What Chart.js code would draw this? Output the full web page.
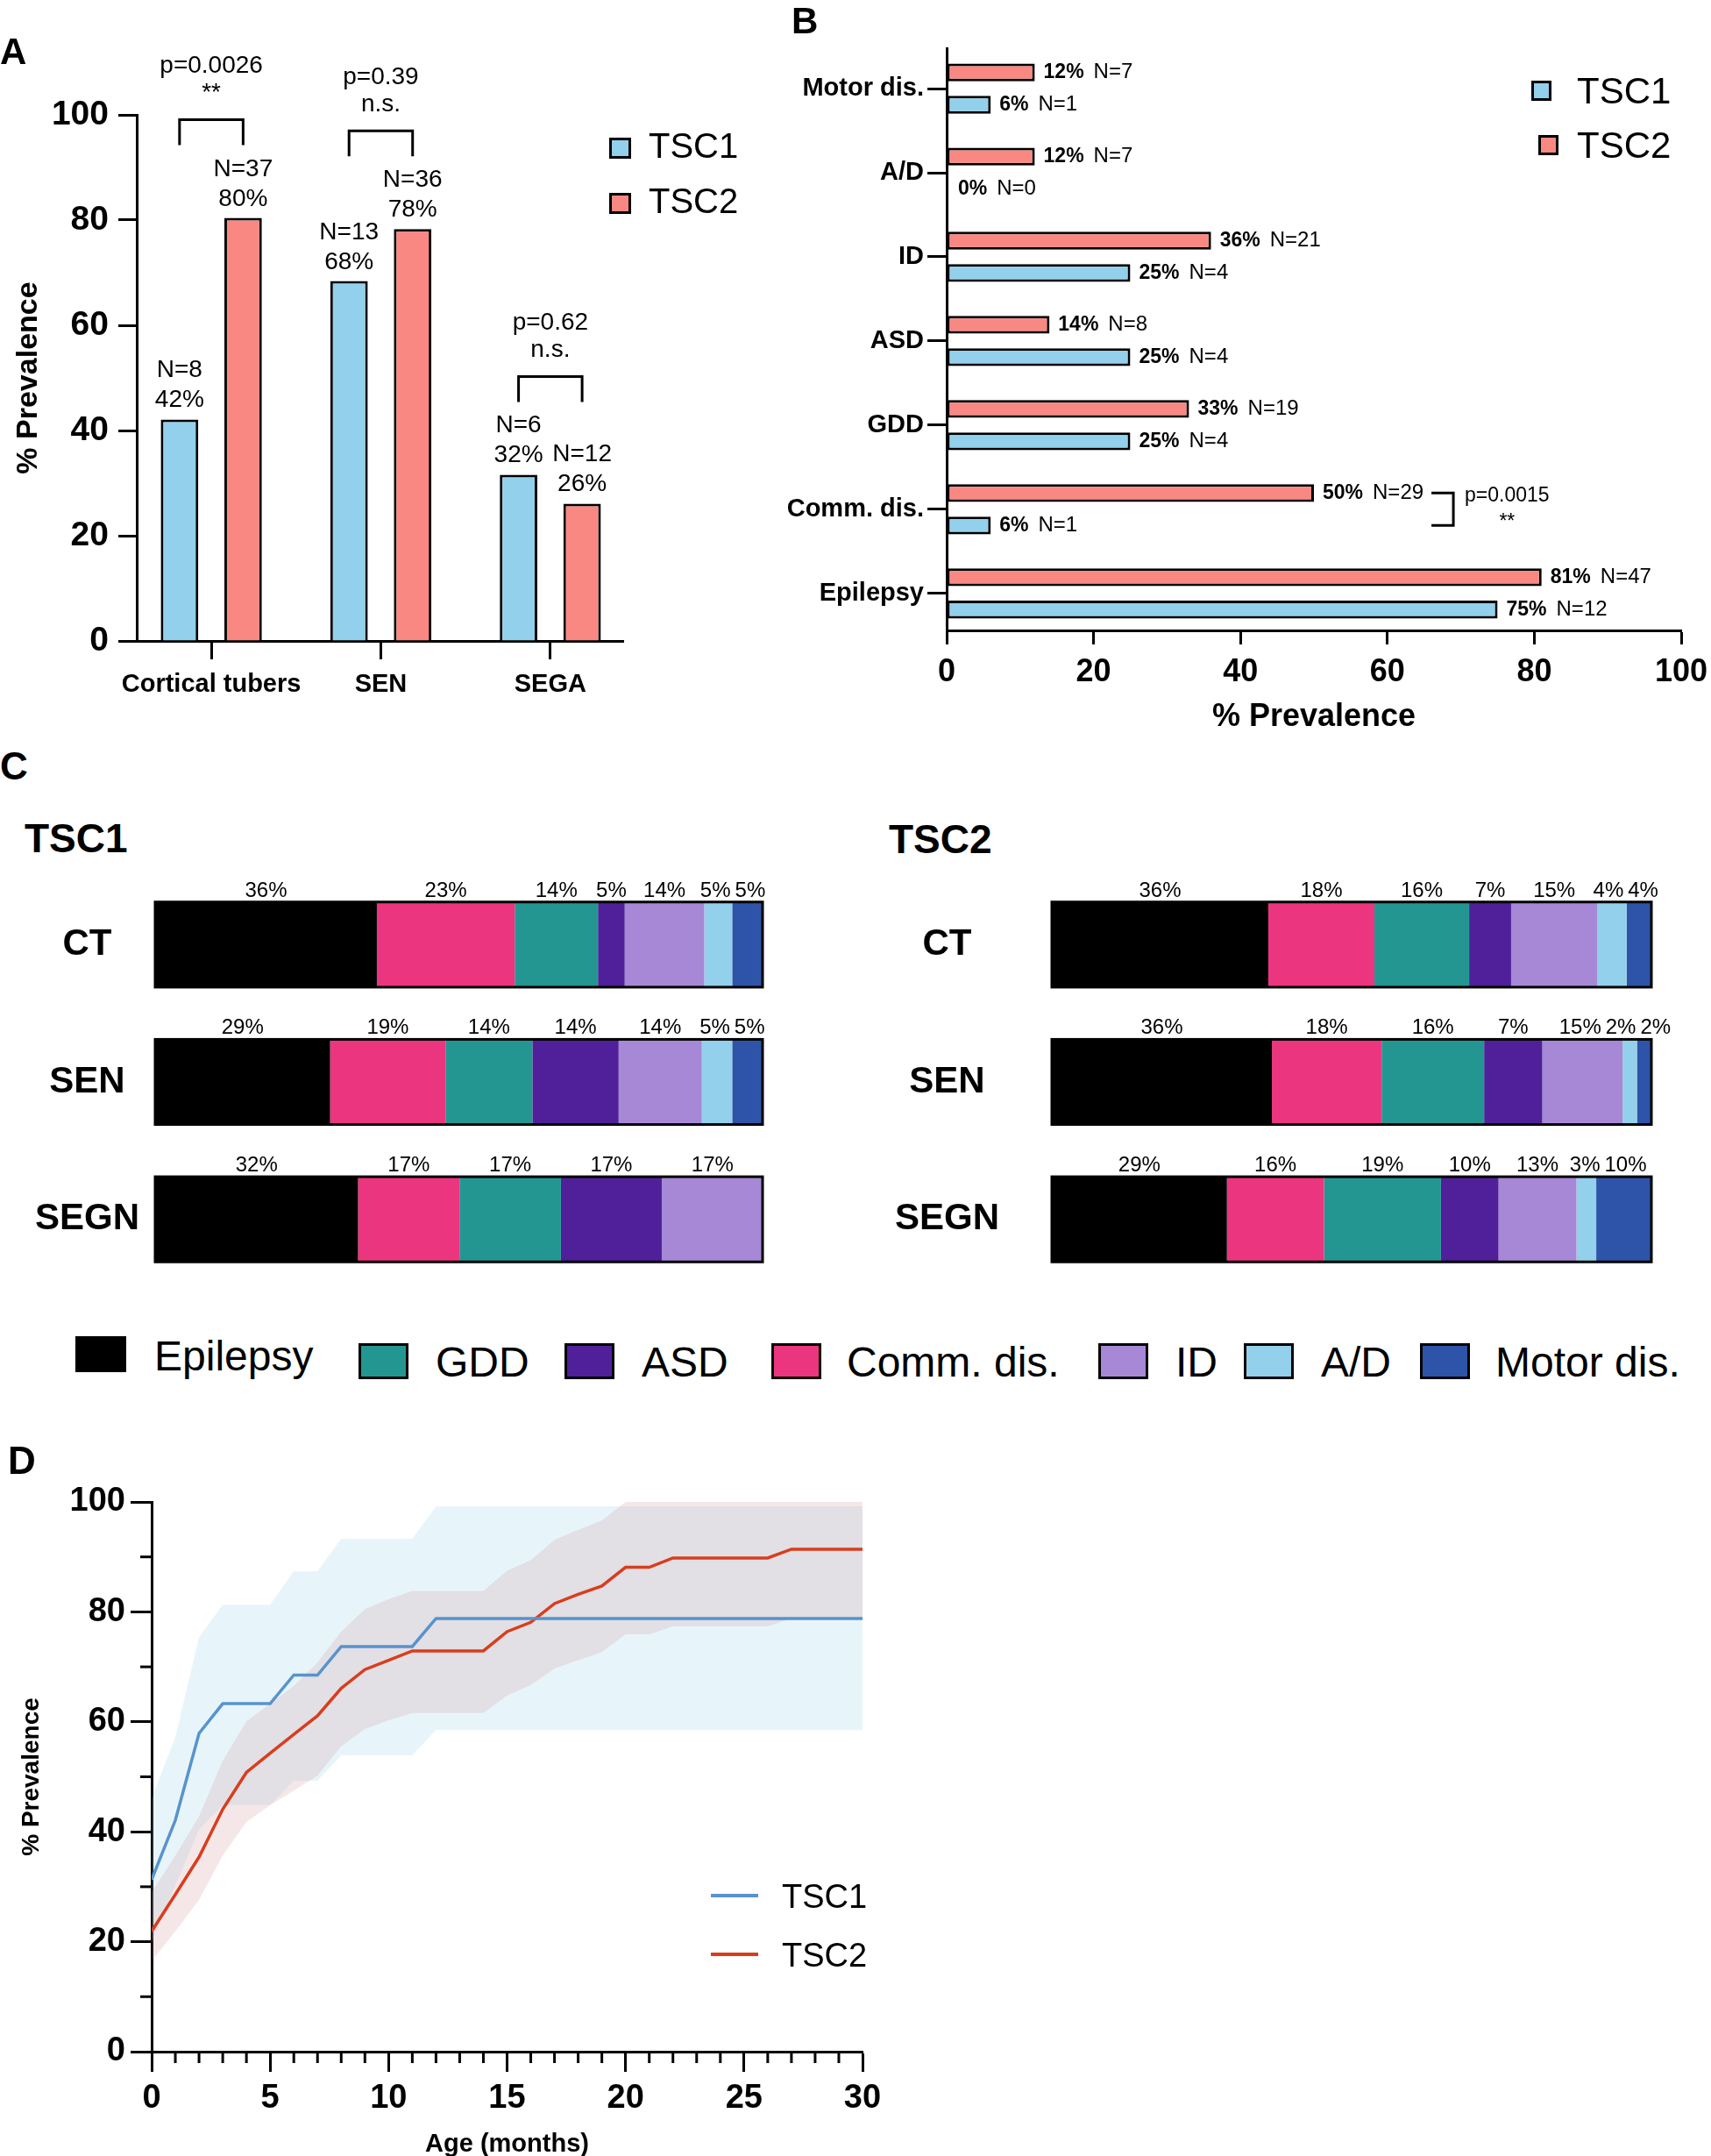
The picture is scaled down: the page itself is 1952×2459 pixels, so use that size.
<!DOCTYPE html>
<html>
<head>
<meta charset="utf-8">
<title>TSC1 / TSC2 prevalence</title>
<script src="https://cdn.jsdelivr.net/npm/chart.js@4.4.1/dist/chart.umd.min.js"></script>
<style>
  html, body { margin: 0; padding: 0; background: #fff; }
  body { position: relative; width: 1952px; height: 2459px; overflow: hidden;
         font-family: "Liberation Sans", Arial, Helvetica, sans-serif; color: #000; }
  canvas { position: absolute; }
  .txt { position: absolute; line-height: 1; white-space: nowrap; }
  .letter { font-size: 42px; font-weight: bold; }
  .box { position: absolute; box-sizing: border-box; border: 3px solid #000; }
  .line { position: absolute; height: 4px; }
</style>
</head>
<body>

<canvas id="chartA" width="880" height="810" style="left:0;top:0"></canvas>
<canvas id="chartB" width="1072" height="850" style="left:880px;top:0"></canvas>
<canvas id="chartC1" width="940" height="490" style="left:0;top:990px"></canvas>
<canvas id="chartC2" width="992" height="490" style="left:960px;top:990px"></canvas>
<canvas id="chartD" width="1100" height="860" style="left:0;top:1620px"></canvas>

<!-- panel letters and titles -->
<div class="txt letter" style="left:0;top:38px">A</div>
<div class="txt letter" style="left:903px;top:3px">B</div>
<div class="txt letter" style="left:0;top:852px;font-size:44px">C</div>
<div class="txt letter" style="left:9px;top:1644px;font-size:44px">D</div>
<div class="txt" style="left:28px;top:933px;font-size:46px;font-weight:bold">TSC1</div>
<div class="txt" style="left:1014px;top:934px;font-size:46px;font-weight:bold">TSC2</div>

<!-- legend A -->
<div class="box" style="left:695px;top:157px;width:25px;height:24px;background:#92D0EB"></div>
<div class="txt" style="left:740px;top:146px;font-size:40px">TSC1</div>
<div class="box" style="left:695px;top:220px;width:25px;height:24px;background:#F98882"></div>
<div class="txt" style="left:740px;top:209px;font-size:40px">TSC2</div>

<!-- legend B -->
<div class="box" style="left:1747px;top:92px;width:23px;height:23px;background:#92D0EB"></div>
<div class="txt" style="left:1799px;top:83px;font-size:42px">TSC1</div>
<div class="box" style="left:1755px;top:154px;width:23px;height:23px;background:#F98882"></div>
<div class="txt" style="left:1799px;top:145px;font-size:42px">TSC2</div>

<!-- legend C -->
<div class="box" style="left:86px;top:1524px;width:58px;height:41px;background:#000"></div>
<div class="txt" style="left:176px;top:1523px;font-size:48px">Epilepsy</div>
<div class="box" style="left:409px;top:1532px;width:57px;height:41px;background:#249692"></div>
<div class="txt" style="left:497px;top:1530px;font-size:48px">GDD</div>
<div class="box" style="left:644px;top:1532px;width:57px;height:41px;background:#50209A"></div>
<div class="txt" style="left:732px;top:1530px;font-size:48px">ASD</div>
<div class="box" style="left:880px;top:1532px;width:57px;height:41px;background:#EC357F"></div>
<div class="txt" style="left:966px;top:1530px;font-size:48px">Comm. dis.</div>
<div class="box" style="left:1253px;top:1532px;width:57px;height:41px;background:#A688D6"></div>
<div class="txt" style="left:1341px;top:1530px;font-size:48px">ID</div>
<div class="box" style="left:1419px;top:1532px;width:57px;height:41px;background:#93D0EC"></div>
<div class="txt" style="left:1507px;top:1530px;font-size:48px">A/D</div>
<div class="box" style="left:1620px;top:1532px;width:57px;height:41px;background:#2D54A8"></div>
<div class="txt" style="left:1706px;top:1530px;font-size:48px">Motor dis.</div>

<!-- legend D -->
<div class="line" style="left:811px;top:2160px;width:54px;background:#5893CC"></div>
<div class="txt" style="left:892px;top:2144px;font-size:38px">TSC1</div>
<div class="line" style="left:811px;top:2227px;width:54px;background:#D93D1C"></div>
<div class="txt" style="left:892px;top:2211px;font-size:38px">TSC2</div>

<script>
// ---- panel A: lesion prevalence ----
const lesionTypes = ['Cortical tubers', 'SEN', 'SEGA'];
const lesionTSC1 = [42.1, 68.4, 31.6];
const lesionTSC2 = [80.4, 78.3, 26.1];
const lesionN1 = ['N=8', 'N=13', 'N=6'];
const lesionN2 = ['N=37', 'N=36', 'N=12'];
const lesionPct1 = ['42%', '68%', '32%'];
const lesionPct2 = ['80%', '78%', '26%'];
const lesionP = ['p=0.0026', 'p=0.39', 'p=0.62'];
const lesionSig = ['**', 'n.s.', 'n.s.'];

// ---- panel B: comorbidities ----
const comorbidities = ['Motor dis.', 'A/D', 'ID', 'ASD', 'GDD', 'Comm. dis.', 'Epilepsy'];
const comorbTSC1 = [6, 0, 25, 25, 25, 6, 75];
const comorbTSC2 = [12, 12, 36, 14, 33, 50, 81];
const comorbN1 = ['N=1', 'N=0', 'N=4', 'N=4', 'N=4', 'N=1', 'N=12'];
const comorbN2 = ['N=7', 'N=7', 'N=21', 'N=8', 'N=19', 'N=29', 'N=47'];
const commP = 'p=0.0015';
const commSig = '**';

// ---- panel C: comorbidity share per lesion ----
const segmentNames = ['Epilepsy', 'Comm. dis.', 'GDD', 'ASD', 'ID', 'A/D', 'Motor dis.'];
const segmentColors = ['#000000', '#EC357F', '#249692', '#50209A', '#A688D6', '#93D0EC', '#2D54A8'];
const lesionRows = ['CT', 'SEN', 'SEGN'];
const tsc1CT = [36.5, 22.7, 13.7, 4.4, 13.1, 4.6, 5.0];
const tsc1SEN = [28.8, 19.0, 14.3, 14.2, 13.7, 5.0, 5.0];
const tsc1SEGN = [33.4, 16.7, 16.7, 16.6, 16.7, 0, 0];
const tsc2CT = [36.1, 17.7, 15.8, 7.0, 14.4, 4.9, 4.2];
const tsc2SEN = [36.7, 18.3, 17.1, 9.7, 13.4, 2.4, 2.4];
const tsc2SEGN = [29.2, 16.2, 19.5, 9.6, 13.0, 3.3, 9.3];
const tsc1CTLabels = ['36%', '23%', '14%', '5%', '14%', '5%', '5%'];
const tsc1SENLabels = ['29%', '19%', '14%', '14%', '14%', '5%', '5%'];
const tsc1SEGNLabels = ['32%', '17%', '17%', '17%', '17%', '', ''];
const tsc2CTLabels = ['36%', '18%', '16%', '7%', '15%', '4%', '4%'];
const tsc2SENLabels = ['36%', '18%', '16%', '7%', '15%', '2%', '2%'];
const tsc2SEGNLabels = ['29%', '16%', '19%', '10%', '13%', '3%', '10%'];

// ---- panel D: cumulative prevalence by age ----
const months = [0, 1, 2, 3, 4, 5, 6, 7, 8, 9, 10, 11, 12, 13, 14, 15, 16, 17, 18, 19, 20, 21, 22, 23, 24, 25, 26, 27, 28, 29, 30];
const tsc1Line = [31.3, 42.1, 57.9, 63.3, 63.3, 63.3, 68.5, 68.5, 73.7, 73.7, 73.7, 73.7, 78.8, 78.8, 78.8, 78.8, 78.8, 78.8, 78.8, 78.8, 78.8, 78.8, 78.8, 78.8, 78.8, 78.8, 78.8, 78.8, 78.8, 78.8, 78.8];
const tsc1Upper = [46.1, 57.2, 75.4, 81.3, 81.3, 81.3, 87.4, 87.4, 93.3, 93.3, 93.3, 93.3, 99.2, 99.2, 99.2, 99.2, 99.2, 99.2, 99.2, 99.2, 99.2, 99.2, 99.2, 99.2, 99.2, 99.2, 99.2, 99.2, 99.2, 99.2, 99.2];
const tsc1Lower = [19.9, 30.3, 40.4, 44.9, 44.9, 44.9, 49.3, 49.3, 53.9, 53.9, 53.9, 53.9, 58.5, 58.5, 58.5, 58.5, 58.5, 58.5, 58.5, 58.5, 58.5, 58.5, 58.5, 58.5, 58.5, 58.5, 58.5, 58.5, 58.5, 58.5, 58.5];
const tsc2Line = [21.9, 28.6, 35.4, 44.1, 50.8, 54.3, 57.7, 61.1, 66.1, 69.5, 71.2, 72.9, 72.9, 72.9, 72.9, 76.4, 78.1, 81.5, 83.2, 84.7, 88.1, 88.1, 89.8, 89.8, 89.8, 89.8, 89.8, 91.4, 91.4, 91.4, 91.4];
const tsc2Upper = [29.0, 35.7, 42.8, 52.9, 60.1, 63.3, 66.5, 70.8, 76.4, 80.5, 82.3, 83.8, 83.8, 83.8, 83.8, 87.5, 89.4, 93.1, 94.9, 96.6, 100, 100, 100, 100, 100, 100, 100, 100, 100, 100, 100];
const tsc2Lower = [16.5, 21.9, 27.6, 35.7, 41.8, 44.8, 47.5, 50.2, 55.6, 58.7, 60.3, 61.6, 61.6, 61.6, 61.6, 64.8, 66.7, 69.7, 71.2, 72.7, 75.9, 75.9, 77.4, 77.4, 77.4, 77.4, 77.4, 78.8, 78.8, 78.8, 78.8];

const FONT = '"Liberation Sans", Arial, Helvetica, sans-serif';
const TSC1_FILL = '#92D0EB';
const TSC2_FILL = '#F98882';

Chart.defaults.font.family = FONT;
Chart.defaults.color = '#000';
Chart.defaults.animation = false;
Chart.defaults.plugins.legend.display = false;
Chart.defaults.plugins.tooltip.enabled = false;

const axisLine = { display: true, width: 3, color: '#000' };

// one tick per category on a linear index axis
const indexTicks = (names) => (s) => { s.ticks = names.map((_, i) => ({ value: i })); };

// N / % labels above bars, significance brackets
const lesionLabels = {
    id: 'lesionLabels',
    afterDatasetsDraw(chart) {
        const ctx = chart.ctx;
        const m1 = chart.getDatasetMeta(0);
        const m2 = chart.getDatasetMeta(1);
        ctx.save();
        ctx.fillStyle = '#000';
        ctx.textAlign = 'center';
        ctx.font = '28px ' + FONT;
        [[m1, lesionN1, lesionPct1], [m2, lesionN2, lesionPct2]].forEach(([meta, ns, pcts]) => {
            meta.data.forEach((bar, i) => {
                ctx.textBaseline = 'alphabetic';
                ctx.fillText(pcts[i], bar.x, bar.y - 14);
                ctx.fillText(ns[i], bar.x, bar.y - 48);
            });
        });
        ctx.lineWidth = 3;
        ctx.strokeStyle = '#000';
        lesionTypes.forEach((_, i) => {
            const b1 = m1.data[i], b2 = m2.data[i];
            const top = Math.min(b1.y, b2.y) - 112;
            ctx.beginPath();
            ctx.moveTo(b1.x, top + 29);
            ctx.lineTo(b1.x, top);
            ctx.lineTo(b2.x, top);
            ctx.lineTo(b2.x, top + 29);
            ctx.stroke();
            const cx = (b1.x + b2.x) / 2;
            ctx.textBaseline = 'middle';
            ctx.fillText(lesionP[i], cx, top - 61);
            ctx.fillText(lesionSig[i], cx, top - 30);
        });
        ctx.restore();
    }
};

new Chart(document.getElementById('chartA'), {
    type: 'bar',
    data: {
        datasets: [
            { label: 'TSC1', data: lesionTSC1.map((v, i) => ({ x: i, y: v })), backgroundColor: TSC1_FILL, borderColor: '#000', borderWidth: 3 },
            { label: 'TSC2', data: lesionTSC2.map((v, i) => ({ x: i, y: v })), backgroundColor: TSC2_FILL, borderColor: '#000', borderWidth: 3 }
        ]
    },
    options: {
        responsive: false,
        categoryPercentage: 0.75,
        barPercentage: 0.59,
        layout: { padding: { top: 131, right: 169, left: 0, bottom: 0 } },
        scales: {
            x: {
                type: 'linear', min: -0.44, max: 2.43, offset: false,
                afterBuildTicks: indexTicks(lesionTypes),
                grid: { offset: false, display: true, drawOnChartArea: false, tickLength: 21, tickWidth: 3, tickColor: '#000' },
                border: axisLine,
                ticks: { autoSkip: false, maxRotation: 0, font: { size: 29, weight: 'bold' }, padding: 12,
                         callback: (v) => lesionTypes[v] },
                afterFit: (s) => { s.height = 79; s.paddingLeft = 0; s.paddingRight = 0; }
            },
            y: {
                min: 0, max: 100,
                ticks: { stepSize: 20, font: { size: 39, weight: 'bold' }, padding: 11 },
                grid: { display: true, drawOnChartArea: false, tickLength: 21, tickWidth: 3, tickColor: '#000' },
                border: axisLine,
                title: { display: true, text: '% Prevalence', font: { size: 34, weight: 'bold' }, padding: { top: 12, bottom: 0 } },
                afterFit: (s) => { s.width = 156; }
            }
        }
    },
    plugins: [lesionLabels]
});

// value labels next to horizontal bars, bracket for comm. dis.
const comorbLabels = {
    id: 'comorbLabels',
    afterDatasetsDraw(chart) {
        const ctx = chart.ctx;
        const xs = chart.scales.x;
        const commIdx = comorbidities.indexOf('Comm. dis.');
        let commEnd = 0;
        const m2 = chart.getDatasetMeta(0);
        const m1 = chart.getDatasetMeta(1);
        ctx.save();
        ctx.fillStyle = '#000';
        ctx.textBaseline = 'middle';
        ctx.textAlign = 'left';
        [[m2, comorbTSC2, comorbN2], [m1, comorbTSC1, comorbN1]].forEach(([meta, vals, ns], d) => {
            meta.data.forEach((bar, i) => {
                let x = xs.getPixelForValue(vals[i]) + (vals[i] === 0 ? 13 : 10);
                const pct = vals[i] + '%';
                ctx.font = 'bold 23px ' + FONT;
                ctx.fillText(pct, x, bar.y);
                x += ctx.measureText(pct).width + 11;
                ctx.font = '24px ' + FONT;
                ctx.fillText(ns[i], x, bar.y);
                if (d === 0 && i === commIdx) commEnd = x + ctx.measureText(ns[i]).width;
            });
        });
        const yA = m2.data[commIdx].y, yB = m1.data[commIdx].y;
        const armStart = commEnd + 9, vx = armStart + 25;
        ctx.lineWidth = 3;
        ctx.strokeStyle = '#000';
        ctx.beginPath();
        ctx.moveTo(armStart, yA);
        ctx.lineTo(vx, yA);
        ctx.lineTo(vx, yB);
        ctx.lineTo(armStart, yB);
        ctx.stroke();
        ctx.font = '23px ' + FONT;
        ctx.fillText(commP, vx + 13, yA + 3);
        const pw = ctx.measureText(commP).width;
        ctx.textAlign = 'center';
        ctx.fillText(commSig, vx + 13 + pw / 2, yB - 4);
        ctx.restore();
    }
};

const barBorder = (c) => (c.raw && c.raw.x === 0 ? 0 : 3);

new Chart(document.getElementById('chartB'), {
    type: 'bar',
    data: {
        datasets: [
            { label: 'TSC2', data: comorbTSC2.map((v, i) => ({ x: v, y: i })), backgroundColor: TSC2_FILL, borderColor: '#000',
              borderWidth: barBorder, borderSkipped: false },
            { label: 'TSC1', data: comorbTSC1.map((v, i) => ({ x: v, y: i })), backgroundColor: TSC1_FILL, borderColor: '#000',
              borderWidth: barBorder, borderSkipped: false }
        ]
    },
    options: {
        responsive: false,
        indexAxis: 'y',
        categoryPercentage: 0.77,
        barPercentage: 0.55,
        layout: { padding: { top: 55, right: 34, left: 0, bottom: 0 } },
        scales: {
            x: {
                min: 0, max: 100,
                ticks: { stepSize: 20, font: { size: 36, weight: 'bold' }, padding: 10 },
                grid: { display: true, drawOnChartArea: false, tickLength: 16, tickWidth: 3, tickColor: '#000' },
                border: axisLine,
                title: { display: true, text: '% Prevalence', font: { size: 36, weight: 'bold' }, padding: { top: 0, bottom: 10 } },
                afterFit: (s) => { s.height = 131; s.paddingLeft = 0; s.paddingRight = 0; }
            },
            y: {
                type: 'linear', reverse: true, min: -0.48, max: 6.44, offset: false,
                afterBuildTicks: indexTicks(comorbidities),
                grid: { offset: false, display: true, drawOnChartArea: false, tickLength: 22, tickWidth: 3, tickColor: '#000' },
                border: axisLine,
                ticks: { font: { size: 29, weight: 'bold' }, padding: 4, autoSkip: false,
                         callback: (v) => comorbidities[v] },
                afterFit: (s) => { s.width = 200; s.paddingTop = 0; s.paddingBottom = 0; }
            }
        }
    },
    plugins: [comorbLabels]
});

// percent labels above stacked segments + outline of each bar
function segmentLabels(labelRows) {
    return {
        id: 'segmentLabels',
        afterDatasetsDraw(chart) {
            const ctx = chart.ctx;
            const xs = chart.scales.x;
            ctx.save();
            ctx.font = '24px ' + FONT;
            ctx.fillStyle = '#000';
            ctx.textAlign = 'center';
            ctx.textBaseline = 'alphabetic';
            labelRows.forEach((labels, row) => {
                const items = [];
                let top = Infinity, bottom = -Infinity;
                chart.data.datasets.forEach((ds, d) => {
                    const bar = chart.getDatasetMeta(d).data[row];
                    top = Math.min(top, bar.y - bar.height / 2);
                    bottom = Math.max(bottom, bar.y + bar.height / 2);
                    if (!ds.data[row]) return;
                    items.push({ text: labels[d], x: (bar.x + bar.base) / 2, w: ctx.measureText(labels[d]).width });
                });
                for (let it = 0; it < 30; it++) {
                    for (let k = 1; k < items.length; k++) {
                        const a = items[k - 1], b = items[k];
                        const overlap = (a.x + a.w / 2 + 5) - (b.x - b.w / 2);
                        if (overlap > 0) { a.x -= overlap / 2; b.x += overlap / 2; }
                    }
                }
                items.forEach((it) => ctx.fillText(it.text, it.x, top - 6));
                ctx.lineWidth = 3;
                ctx.strokeStyle = '#000';
                const x0 = xs.getPixelForValue(0), x1 = xs.getPixelForValue(100);
                ctx.strokeRect(x0, top, x1 - x0, bottom - top);
            });
            ctx.restore();
        }
    };
}

function stackedChart(id, rows, labelRows, axisWidth, labelPad, rightPad) {
    return new Chart(document.getElementById(id), {
        type: 'bar',
        data: {
            labels: lesionRows,
            datasets: segmentNames.map((name, d) => ({
                label: name,
                data: rows.map((r) => r[d]),
                backgroundColor: segmentColors[d],
                borderWidth: 0
            }))
        },
        options: {
            responsive: false,
            indexAxis: 'y',
            categoryPercentage: 1,
            barPercentage: 0.62,
            layout: { padding: { top: 9, bottom: 11, left: 0, right: rightPad } },
            scales: {
                x: { stacked: true, min: 0, max: 100, display: false },
                y: {
                    stacked: true,
                    grid: { display: false, drawTicks: false },
                    border: { display: false },
                    ticks: { font: { size: 42, weight: 'bold' }, crossAlign: 'center', padding: labelPad },
                    afterFit: (s) => { s.width = axisWidth; s.paddingTop = 0; s.paddingBottom = 0; }
                }
            }
        },
        plugins: [segmentLabels(labelRows)]
    });
}

stackedChart('chartC1', [tsc1CT, tsc1SEN, tsc1SEGN], [tsc1CTLabels, tsc1SENLabels, tsc1SEGNLabels], 177, 18, 70);
stackedChart('chartC2', [tsc2CT, tsc2SEN, tsc2SEGN], [tsc2CTLabels, tsc2SENLabels, tsc2SEGNLabels], 240, 60, 68);

// minor ticks (shorter) for panel D
const minorTicks = {
    id: 'minorTicks',
    afterDraw(chart) {
        const ctx = chart.ctx;
        const { left, bottom } = chart.chartArea;
        ctx.save();
        ctx.strokeStyle = '#000';
        ctx.lineWidth = 3;
        chart.scales.x.ticks.forEach((t) => {
            if (t.value % 5 === 0) return;
            const px = chart.scales.x.getPixelForValue(t.value);
            ctx.beginPath(); ctx.moveTo(px, bottom); ctx.lineTo(px, bottom + 13); ctx.stroke();
        });
        chart.scales.y.ticks.forEach((t) => {
            if (t.value % 20 === 0) return;
            const py = chart.scales.y.getPixelForValue(t.value);
            ctx.beginPath(); ctx.moveTo(left - 13, py); ctx.lineTo(left, py); ctx.stroke();
        });
        ctx.restore();
    }
};

const pts = (vals) => months.map((m, i) => ({ x: m, y: vals[i] }));
const band = { borderWidth: 0, pointRadius: 0 };

new Chart(document.getElementById('chartD'), {
    type: 'line',
    data: {
        datasets: [
            { label: 'TSC1', data: pts(tsc1Line), borderColor: '#5893CC', borderWidth: 3.5, pointRadius: 0, fill: false },
            { label: 'TSC2', data: pts(tsc2Line), borderColor: '#D93D1C', borderWidth: 3.5, pointRadius: 0, fill: false },
            { label: 'TSC2 upper', data: pts(tsc2Upper), ...band, fill: '+1', backgroundColor: 'rgba(200,120,130,0.18)' },
            { label: 'TSC2 lower', data: pts(tsc2Lower), ...band, fill: false },
            { label: 'TSC1 upper', data: pts(tsc1Upper), ...band, fill: '+1', backgroundColor: 'rgba(135,206,235,0.2)' },
            { label: 'TSC1 lower', data: pts(tsc1Lower), ...band, fill: false }
        ]
    },
    options: {
        responsive: false,
        layout: { padding: { top: 93, right: 116, left: 0, bottom: 0 } },
        scales: {
            x: {
                type: 'linear', min: 0, max: 30,
                ticks: { stepSize: 1, autoSkip: false, maxTicksLimit: 100, maxRotation: 0,
                         font: { size: 38, weight: 'bold' }, padding: 8,
                         callback: (v) => (v % 5 === 0 ? v : '') },
                grid: { display: true, drawOnChartArea: false, tickLength: 23, tickWidth: 3,
                        tickColor: (c) => (c.tick && c.tick.value % 5 === 0 ? '#000' : 'rgba(0,0,0,0)') },
                border: axisLine,
                title: { display: true, text: 'Age (months)', font: { size: 29, weight: 'bold' }, padding: { top: 0, bottom: 17 } },
                afterFit: (s) => { s.height = 140; }
            },
            y: {
                min: 0, max: 100,
                ticks: { stepSize: 10, autoSkip: false, font: { size: 38, weight: 'bold' }, padding: 6,
                         callback: (v) => (v % 20 === 0 ? v : '') },
                grid: { display: true, drawOnChartArea: false, tickLength: 24, tickWidth: 3,
                        tickColor: (c) => (c.tick && c.tick.value % 20 === 0 ? '#000' : 'rgba(0,0,0,0)') },
                border: axisLine,
                title: { display: true, text: '% Prevalence', font: { size: 28, weight: 'bold' }, padding: { top: 19, bottom: 0 } },
                afterFit: (s) => { s.width = 173; }
            }
        }
    },
    plugins: [minorTicks]
});
</script>
</body>
</html>
